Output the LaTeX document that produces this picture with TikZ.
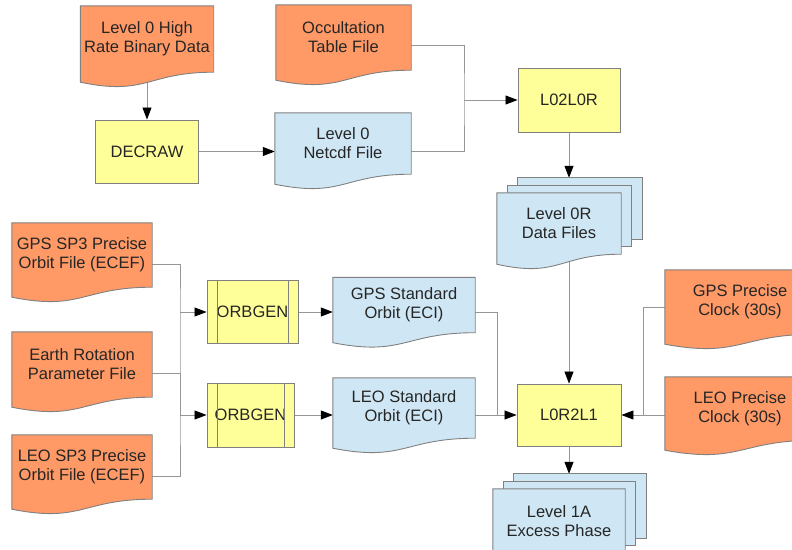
\documentclass[tikz,border=0pt]{standalone}
\usepackage{fontspec}
\setmainfont{Liberation Sans}
\usepackage{tikz}
\usetikzlibrary{arrows.meta}
\definecolor{docorange}{RGB}{255,153,102}
\definecolor{docblue}{RGB}{207,231,245}
\definecolor{procyellow}{RGB}{255,255,153}
\definecolor{edgegray}{RGB}{128,128,128}
\definecolor{linegray}{RGB}{150,150,150}
\pgfdeclarelayer{lines}
\pgfdeclarelayer{shapes}
\pgfsetlayers{lines,shapes,main}
\tikzset{
  box/.style={inner sep=0pt, align=center, font=\fontsize{16.5}{19}\selectfont, text=black!85},
  proc/.style={box, draw=edgegray, fill=procyellow, line width=0.9pt},
  docorg/.style={draw=edgegray, fill=docorange, line width=0.9pt},
  docblu/.style={draw=edgegray, fill=docblue, line width=0.9pt},
  conn/.style={draw=linegray, line width=0.8pt},
  flow/.style={conn, -{Triangle[length=12pt,width=9pt,color=black]}},
}

\begin{document}
\begin{tikzpicture}[x=1pt,y=-1pt]
\useasboundingbox (0,0) rectangle (792,549);
% level 0 inputs
\node[box, minimum width=133pt, minimum height=66pt] (l0raw) at (147,39) {Level 0 High\\Rate Binary Data};
\node[box, minimum width=135pt, minimum height=65pt] (occ) at (343.5,37.5) {Occultation\\Table File};
\node[proc, minimum width=103pt, minimum height=63pt] (decraw) at (147,151.5) {DECRAW};
\node[box, minimum width=136pt, minimum height=61pt] (l0nc) at (343,143.5) {Level 0\\Netcdf File};
\node[proc, minimum width=102pt, minimum height=64pt] (l02l0r) at (569,100) {L02L0R};
\node[box, minimum width=124pt, minimum height=61pt] (l0r) at (559,223.5) {Level 0R\\Data Files};
% orbits
\node[box, minimum width=140pt, minimum height=64pt] (gpssp3) at (82,255) {GPS SP3 Precise\\Orbit File (ECEF)};
\node[box, minimum width=140pt, minimum height=65pt] (erp) at (82,364.5) {Earth Rotation\\Parameter File};
\node[box, minimum width=140pt, minimum height=64pt] (leosp3) at (82,467) {LEO SP3 Precise\\Orbit File (ECEF)};
\node[proc, minimum width=91pt, minimum height=63pt] (orb1) at (252.5,312) {ORBGEN};
\node[proc, minimum width=87pt, minimum height=64pt] (orb2) at (250.5,415) {ORBGEN};
\node[box, minimum width=142pt, minimum height=55pt] (gpsstd) at (404,305) {GPS Standard\\Orbit (ECI)};
\node[box, minimum width=142pt, minimum height=60pt] (leostd) at (404,408) {LEO Standard\\Orbit (ECI)};
% level 1
\node[proc, minimum width=104pt, minimum height=62pt] (l0r2l1) at (569,415) {L0R2L1};
\node[box, minimum width=150pt, minimum height=64pt] (gpsclk) at (740,302) {GPS Precise\\Clock (30s)};
\node[box, minimum width=150pt, minimum height=63pt] (leoclk) at (740,408.5) {LEO Precise\\Clock (30s)};
\node[box, minimum width=132pt, minimum height=64pt] (l1a) at (559,521) {Level 1A\\Excess Phase};

\foreach \n in {orb1,orb2}
  \draw[edgegray, line width=0.9pt] ([xshift=11pt]\n.north west) -- ([xshift=11pt]\n.south west)
    ([xshift=-10pt]\n.north east) -- ([xshift=-10pt]\n.south east);

\coordinate (l0rtop) at ([yshift=15pt]l0r.north);
\coordinate (l1atop) at ([yshift=15pt]l1a.north);

\begin{pgfonlayer}{shapes}
\foreach \n in {l0raw,occ,gpssp3,erp,leosp3,gpsclk,leoclk}
  \draw[docorg] (\n.north west) -- (\n.north east) -- (\n.south east)
    .. controls (\n.south) and ([yshift=-24pt]\n.south) .. ([yshift=-10pt]\n.south west) -- cycle;
\foreach \n in {l0r,l1a}
  \foreach \s in {2,1}
    \draw[docblu] ([xshift=\s*10.5pt,yshift=\s*7.5pt]\n.north west) rectangle ([xshift=\s*10.5pt,yshift=\s*7.5pt]\n.south east);
\foreach \n in {l0nc,gpsstd,leostd,l0r,l1a}
  \draw[docblu] (\n.north west) -- (\n.north east) -- (\n.south east)
    .. controls (\n.south) and ([yshift=-24pt]\n.south) .. ([yshift=-10pt]\n.south west) -- cycle;
\end{pgfonlayer}

\begin{pgfonlayer}{lines}
\coordinate (j1) at (464,100);
\coordinate (bus1) at (180,312);
\coordinate (bus2) at (180,415);
\coordinate (j2) at (497,415);
\coordinate (j3) at (643,415);
\draw[flow] (l0raw) -- (decraw);
\draw[flow] (decraw) -- ([yshift=-8pt]l0nc.west);
\draw[conn] ([yshift=-8pt]occ.east) -| (j1) |- ([yshift=-8pt]l0nc.east);
\draw[flow] (j1) -- (l02l0r);
\draw[flow] (l02l0r) -- (l02l0r |- l0rtop);
\draw[flow] (l0r -| l0r2l1) -- (l0r2l1);
\draw[conn] ([yshift=-9pt]gpssp3.east) -| (bus1) -- (bus2) |- ([yshift=-9pt]leosp3.east);
\draw[conn] ([yshift=-9pt]erp.east) -| (bus2);
\draw[flow] (bus1) -- (orb1);
\draw[flow] (bus2) -- (orb2);
\draw[flow] (orb1) -- ([yshift=-7pt]gpsstd.west);
\draw[flow] (orb2) -- ([yshift=-7pt]leostd.west);
\draw[conn] ([yshift=-7pt]gpsstd.east) -| (j2);
\draw[flow] ([yshift=-7pt]leostd.east) -- (l0r2l1);
\draw[conn] ([yshift=-5pt]gpsclk.west) -| (j3);
\draw[flow] ([yshift=-6.5pt]leoclk.west) -- (l0r2l1);
\draw[flow] (l0r2l1) -- (l0r2l1 |- l1atop);
\end{pgfonlayer}
\end{tikzpicture}
\end{document}
